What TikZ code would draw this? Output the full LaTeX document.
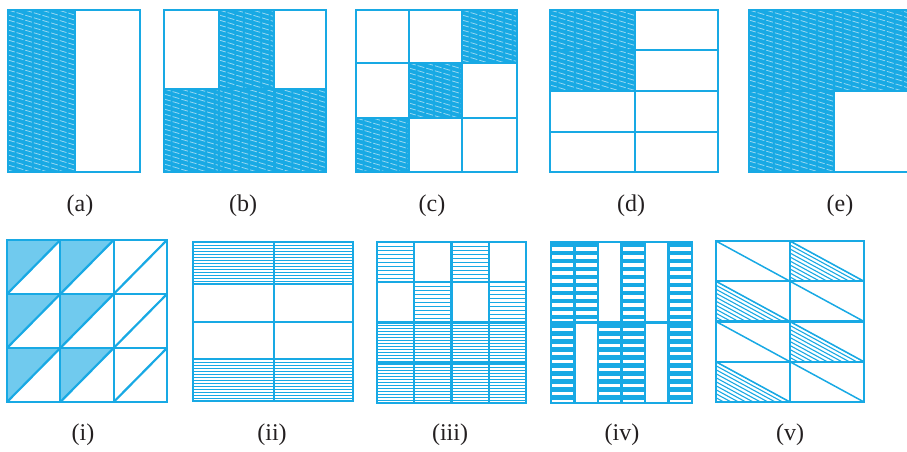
\documentclass[tikz,border=0pt]{standalone}
\usepackage{fontspec}
\setmainfont{Liberation Serif}
\usepackage{tikz}
\usetikzlibrary{positioning}
\definecolor{figblue}{HTML}{18A9E4}
\definecolor{inkdark}{HTML}{231F20}
\tikzset{
  framebox/.style={draw=figblue,line width=2.6pt},
  gridline/.style={draw=figblue,line width=2.2pt},
  shadefill/.style={fill=figblue},
  slantdash/.style={draw=white,line width=0.8pt,dash pattern=on 7pt off 2pt,opacity=0.55},
  rulehatch/.style={draw=figblue,line width=0.9pt},
  barhatch/.style={draw=figblue,line width=4.4pt},
  dotfill/.style={fill=figblue!62},
  caption/.style={font=\fontsize{24}{26}\selectfont,text=inkdark,inner sep=0pt},
}
% blue cell with white slanted dashes
\newcommand{\slantcell}[4]{%
  \fill[shadefill] (#1,#2) rectangle (#3,#4);
  \begin{scope}
    \clip (#1,#2) rectangle (#3,#4);
    \foreach \k in {-60,-55,...,170}
      \draw[slantdash] (#1,#2+\k) -- ++(200,60);
  \end{scope}}
% cell ruled with thin horizontal lines, #5 = spacing
\newcommand{\rulecell}[5]{%
  \begin{scope}
    \clip (#1,#2) rectangle (#3,#4);
    \foreach \k in {0,#5,...,90}
      \draw[rulehatch] (#1,#2+\k) -- (#3,#2+\k);
  \end{scope}}
% cell ruled with thick bars
\newcommand{\barcell}[4]{%
  \begin{scope}
    \clip (#1,#2) rectangle (#3,#4);
    \foreach \k in {0,...,10}
      \draw[barhatch] (#1,#2+3+8*\k) -- (#3,#2+3+8*\k);
  \end{scope}}

\begin{document}
\begin{tikzpicture}[x=1pt,y=-1pt]
  \clip (0,0) rectangle (907,451);

  % (a)
  \slantcell{8}{10}{75}{172}
  \draw[gridline] (75,10) -- (75,172);
  \draw[framebox] (8,10) rectangle (140,172);
  \node[caption] (lbla) at (80,206) {(a)};

  % (b)
  \slantcell{219}{10}{274}{89}
  \slantcell{164}{89}{326}{172}
  \draw[gridline] (219,10) -- (219,172) (274,10) -- (274,172) (164,89) -- (326,89);
  \draw[framebox] (164,10) rectangle (326,172);
  \node[caption] (lblb) at (243,206) {(b)};

  % (c)
  \slantcell{462}{10}{517}{63}
  \slantcell{409}{63}{462}{118}
  \slantcell{356}{118}{409}{172}
  \draw[gridline] (409,10) -- (409,172) (462,10) -- (462,172)
    (356,63) -- (517,63) (356,118) -- (517,118);
  \draw[framebox] (356,10) rectangle (517,172);
  \node[caption] (lblc) at (432,206) {(c)};

  % (d)
  \slantcell{550}{10}{635}{91}
  \draw[gridline] (635,10) -- (635,172);
  \foreach \y in {50,91,132}
    \draw[gridline] (550,\y) -- (718,\y);
  \draw[framebox] (550,10) rectangle (718,172);
  \node[caption] (lbld) at (631,206) {(d)};

  % (e)
  \slantcell{749}{10}{919}{91}
  \slantcell{749}{91}{834}{172}
  \draw[gridline] (834,10) -- (834,172) (749,91) -- (919,91);
  \draw[framebox] (749,10) rectangle (919,172);
  \node[caption] (lble) at (840,206) {(e)};

  % (i)
  \foreach \i in {0,1}
    \foreach \j in {0,1,2}
      \fill[dotfill] (7+53.33*\i,240+54*\j) -- ++(53.33,0) -- ++(-53.33,54) -- cycle;
  \foreach \i in {0,1,2}
    \foreach \j in {0,1,2}
      \draw[gridline] (7+53.33*\i,294+54*\j) -- ++(53.33,-54);
  \draw[gridline] (60.3,240) -- (60.3,402) (113.7,240) -- (113.7,402)
    (7,294) -- (167,294) (7,348) -- (167,348);
  \draw[framebox] (7,240) rectangle (167,402);
  \node[caption] (lbli) at (83,435) {(i)};

  % (ii)
  \rulecell{193}{242}{353}{284}{3}
  \rulecell{193}{359}{353}{401}{3}
  \draw[gridline] (274,242) -- (274,401);
  \foreach \y in {284,322,359}
    \draw[gridline] (193,\y) -- (353,\y);
  \draw[framebox] (193,242) rectangle (353,401);
  \node[caption] (lblii) at (272,435) {(ii)};

  % (iii)
  \foreach \i/\j in {0/0,2/0,1/1,3/1}
    \rulecell{377+37.25*\i}{242+40.25*\j}{414.25+37.25*\i}{282.25+40.25*\j}{4}
  \rulecell{377}{322.5}{526}{403}{3}
  \foreach \x in {414.25,451.5,488.75}
    \draw[gridline] (\x,242) -- (\x,403);
  \foreach \y in {282.25,322.5,362.75}
    \draw[gridline] (377,\y) -- (526,\y);
  \draw[framebox] (377,242) rectangle (526,403);
  \node[caption] (lbliii) at (450,435) {(iii)};

  % (iv)
  \foreach \i in {0,1,3,5}
    \barcell{551+23.5*\i}{242}{574.5+23.5*\i}{322.5}
  \foreach \i in {0,2,3,5}
    \barcell{551+23.5*\i}{322.5}{574.5+23.5*\i}{403}
  \foreach \i in {1,...,5}
    \draw[gridline] (551+23.5*\i,242) -- (551+23.5*\i,403);
  \draw[gridline] (551,322.5) -- (692,322.5);
  \draw[framebox] (551,242) rectangle (692,403);
  \node[caption] (lbliv) at (622,435) {(iv)};

  % (v)
  \foreach \i/\j in {1/0,0/1,1/2,0/3} {
    \begin{scope}
      \clip (716+74*\i,241+40.25*\j) -- ++(0,40.25) -- ++(74,0) -- cycle;
      \foreach \k in {0,4,...,44}
        \draw[rulehatch,line width=1.1pt] (716+74*\i,241+40.25*\j+\k) -- ++(74,40.25);
    \end{scope}
  }
  \foreach \i in {0,1}
    \foreach \j in {0,...,3}
      \draw[gridline,line width=1.5pt] (716+74*\i,241+40.25*\j) -- ++(74,40.25);
  \draw[gridline] (790,241) -- (790,402);
  \foreach \y in {281.25,321.5,361.75}
    \draw[gridline] (716,\y) -- (864,\y);
  \draw[framebox] (716,241) rectangle (864,402);
  \node[caption] (lblv) at (790,435) {(v)};
\end{tikzpicture}
\end{document}
